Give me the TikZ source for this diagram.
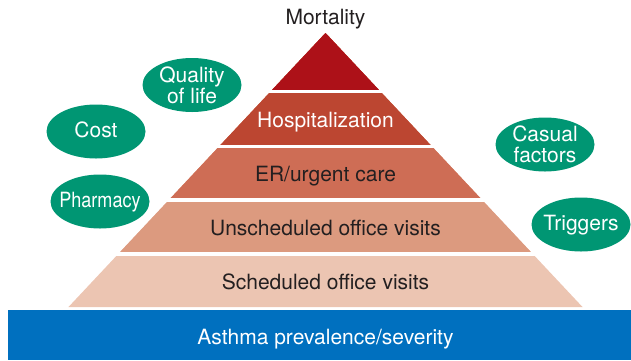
\documentclass[tikz,border=0pt]{standalone}
\usepackage{fontspec}
\setmainfont{TeX Gyre Heros}
\usetikzlibrary{shapes.geometric}

\definecolor{mortality}{HTML}{AD1118}
\definecolor{hospital}{HTML}{BC4631}
\definecolor{urgent}{HTML}{CE6D55}
\definecolor{unsched}{HTML}{DC9A7F}
\definecolor{sched}{HTML}{ECC5B2}
\definecolor{prevalence}{HTML}{0070BF}
\definecolor{factor}{HTML}{009673}
\definecolor{ink}{HTML}{231F20}

\begin{document}
\begin{tikzpicture}[x=1pt,y=-1pt,font=\fontsize{21}{21}\selectfont]
    \useasboundingbox (0,0) rectangle (631,360);

    % pyramid layers, widest first
    \coordinate (apex) at (325.5,33);
    \foreach \yb/\col in {307/sched,252/unsched,198/urgent,145/hospital,90/mortality}
      \fill[\col] (apex) -- ({325.5-0.938*(\yb-33)},\yb) -- ({325.5+0.938*(\yb-33)},\yb) -- cycle;
    \foreach \yg in {91.5,146.5,200,254}
      \draw[white,line width=3.5pt] ({320-0.938*(\yg-33)},\yg) -- ({331+0.938*(\yg-33)},\yg);

    \node[fill=prevalence,minimum width=623pt,minimum height=50pt,inner sep=0pt] (base) at (319.5,335) {};

    \begin{scope}[anchor=base,inner sep=0pt]
      \tikzstyle{every node}=[text=ink]
      \node              (mort)    at (325.5,24)  {Mortality};
      \node[text=white]  (hosp)    at (325.5,127) {Hospitalization};
      \node              (er)      at (325.5,181) {ER/urgent care};
      \node              (unsch)   at (325.5,235) {Unscheduled office visits};
      \node              (sch)     at (325.5,289) {Scheduled office visits};
      \node[text=white]  (asthma)  at (325.5,344) {Asthma prevalence/severity};
    \end{scope}

    \begin{scope}[minimum width=99pt,minimum height=54pt,inner sep=0pt]
      \tikzstyle{every node}=[ellipse,fill=factor]
      \node (qol)     at (192,85)    {};
      \node (cost)    at (96,131.5)  {};
      \node (pharm)   at (100,201.5) {};
      \node (causal)  at (545,144.5) {};
      \node (trig)    at (581,224.5) {};
    \end{scope}

    \begin{scope}[text=white,align=center,inner sep=0pt]
      \tikzstyle{one line}=[text height=15pt,text depth=4pt]
      \node            (qol-l)    at (qol)    {Quality\\of life};
      \node[one line]  (cost-l)   at (cost)   {Cost};
      \node[one line]  (pharm-l)  at (pharm)  {\scalebox{0.86}[1]{Pharmacy}};
      \node            (causal-l) at (causal) {Casual\\factors};
      \node[one line]  (trig-l)   at (trig)   {Triggers};
    \end{scope}
\end{tikzpicture}
\end{document}
